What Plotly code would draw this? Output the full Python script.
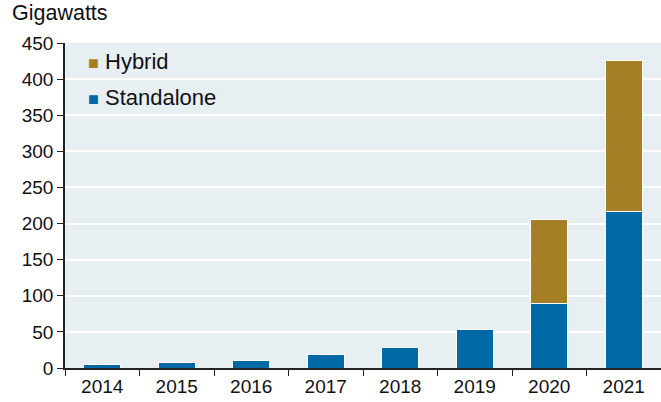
import plotly.graph_objects as go

# Data
years = ["2014", "2015", "2016", "2017", "2018", "2019", "2020", "2021"]
standalone = [5, 7, 10, 19, 28, 53, 90, 217]
hybrid = [0, 0, 0, 0, 0, 0, 116, 209]

BLUE = "#0069A5"
GOLD = "#A47F25"
FONT = "Liberation Sans, Arial, sans-serif"
FS = 19

fig = go.Figure()

fig.add_trace(go.Bar(
    x=years, y=standalone, name="Standalone",
    marker=dict(color=BLUE, line=dict(color="white", width=1)),
    width=0.5,
))
fig.add_trace(go.Bar(
    x=years, y=hybrid, name="Hybrid",
    marker=dict(color=GOLD, line=dict(color="white", width=1)),
    width=0.5,
))

# legend drawn as text: coloured square glyph + label
legend_items = [("Hybrid", GOLD), ("Standalone", BLUE)]
annotations = []
for i, (label, col) in enumerate(legend_items):
    annotations.append(dict(
        text=f"<span style='color:{col};font-size:18px'>■</span> {label}",
        xref="paper", yref="paper", x=0, y=1,
        xanchor="left", yanchor="middle",
        xshift=21, yshift=-18 - 36 * i, showarrow=False,
        font=dict(size=22),
    ))

annotations.append(dict(
    text="Gigawatts", xref="paper", yref="paper",
    x=0, y=1, xanchor="left", yanchor="middle",
    xshift=-55, yshift=30, showarrow=False,
    font=dict(size=21.5),
))

fig.update_layout(
    barmode="stack",
    width=661, height=402,
    margin=dict(l=65, r=0, t=43, b=34),
    paper_bgcolor="white",
    plot_bgcolor="#E7EFF3",
    font=dict(family=FONT, size=FS, color="#111111"),
    showlegend=False,
    annotations=annotations,
)

fig.update_xaxes(
    type="category",
    tickson="boundaries",
    ticks="outside", ticklen=6, tickcolor="#222222",
    showline=True, linecolor="#222222", linewidth=1.5,
    showgrid=False, automargin=False,
)
fig.update_yaxes(
    range=[0, 450], dtick=50,
    ticks="outside", ticklen=6, tickcolor="#222222",
    showline=True, linecolor="#222222", linewidth=1.5,
    showgrid=True, gridcolor="white", gridwidth=1.5,
    zeroline=False, automargin=False,
)

# drop the default page margin so the figure fills the window
fig.write_html(
    "out.html",
    config={"displayModeBar": False},
    post_script="document.body.style.margin='0';",
)
